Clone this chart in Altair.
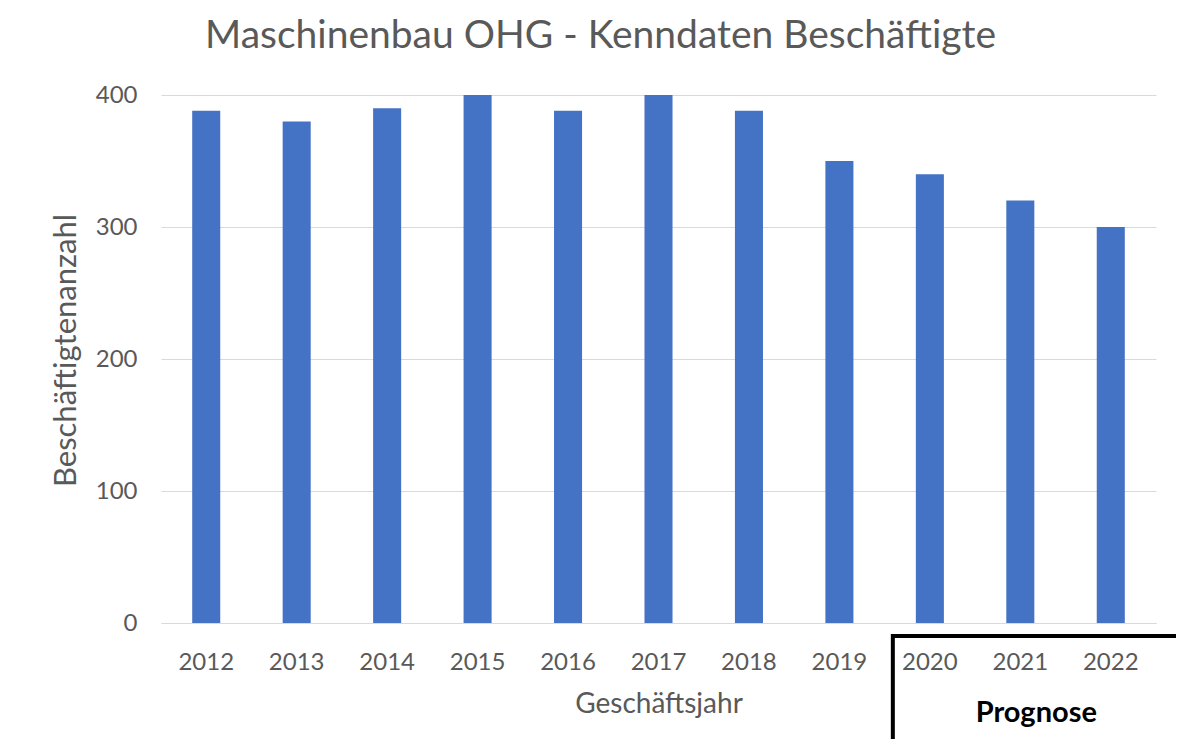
import altair as alt
import pandas as pd

years = ["2012", "2013", "2014", "2015", "2016", "2017", "2018", "2019", "2020", "2021", "2022"]
employees = [388, 380, 390, 400, 388, 400, 388, 350, 340, 320, 300]

df = pd.DataFrame({"Jahr": years, "Beschäftigte": employees})

FONT = "Lato"
GREY = "#595959"

xscale = alt.Scale(domain=years, paddingInner=0.69, paddingOuter=0.345)

bars = alt.Chart(df).mark_bar(color="#4472C4").encode(
    x=alt.X("Jahr:N", scale=xscale, sort=years,
            axis=alt.Axis(title="Geschäftsjahr", labelAngle=0, labelFont=FONT, labelFontSize=24,
                          labelColor=GREY, labelPadding=27, ticks=False, domainColor="#d9d9d9",
                          titleFont=FONT, titleFontSize=28, titleColor=GREY, titleFontWeight="normal",
                          titlePadding=16)),
    y=alt.Y("Beschäftigte:Q", scale=alt.Scale(domain=[0, 400]),
            axis=alt.Axis(title="Beschäftigtenanzahl", values=[0, 100, 200, 300, 400], labelFont=FONT,
                          labelFontSize=24, labelColor=GREY, labelPadding=24, ticks=False, domain=False,
                          gridColor="#d9d9d9", titleFont=FONT, titleFontSize=31, titleColor=GREY,
                          titleFontWeight="normal", titlePadding=13, titleY=255)),
)

box_df = pd.DataFrame({"von": ["2020"], "bis": ["2022"], "mitte": ["2021"], "label": ["Prognose"]})

box = alt.Chart(box_df).mark_rect(filled=False, stroke="black", strokeWidth=4,
                                   xOffset=-23, x2Offset=54, clip=False).encode(
    x=alt.X("von:N", scale=xscale, bandPosition=0),
    x2=alt.X2("bis:N", bandPosition=1),
    y=alt.value(541),
    y2=alt.value(760),
)

label = alt.Chart(box_df).mark_text(font=FONT, fontSize=29, fontWeight="bold", color="black",
                                     dx=16, baseline="middle").encode(
    x=alt.X("mitte:N", scale=xscale, bandPosition=0.5),
    y=alt.value(618),
    text="label:N",
)

chart = alt.layer(bars, box, label).properties(
    width=995,
    height=528,
    title=alt.TitleParams("Maschinenbau OHG - Kenndaten Beschäftigte", font=FONT, fontSize=39,
                          fontWeight="normal", color=GREY, anchor="middle", dx=-58, dy=4,
                          baseline="alphabetic", offset=0),
    autosize=alt.AutoSizeParams(type="none"),
    padding={"left": 153, "top": 87, "right": 20, "bottom": 116},
).configure_view(stroke=None)

chart.save("out.html", embed_options={"renderer": "svg", "actions": False})
